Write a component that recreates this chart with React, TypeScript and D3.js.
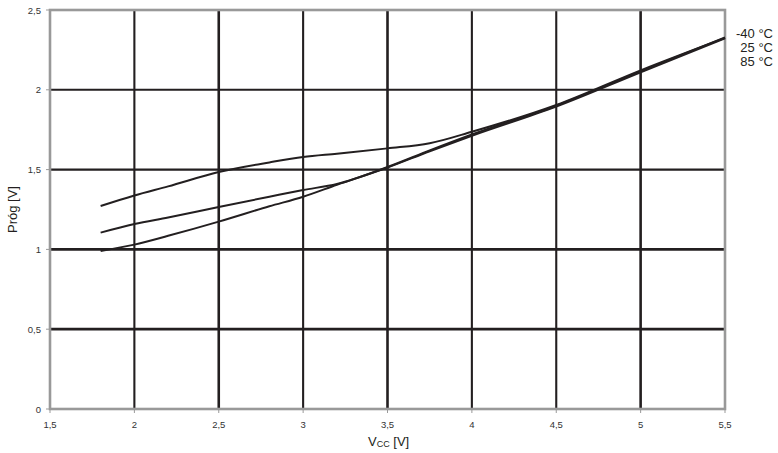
import React from "react";
import * as d3 from "d3";

const xTicks = [1.5, 2, 2.5, 3, 3.5, 4, 4.5, 5, 5.5];
const yTicks = [0, 0.5, 1, 1.5, 2, 2.5];
const seriesNames = ["-40 °C", "25 °C", "85 °C"];

const vcc = [1.8, 2.0, 2.2, 2.5, 2.8, 3.0, 3.2, 3.5, 3.75, 4.0, 4.5, 5.0, 5.5];
const thrM40 = [1.272, 1.338, 1.395, 1.485, 1.545, 1.579, 1.6, 1.633, 1.665, 1.737, 1.905, 2.122, 2.325];
const thr25 = [1.105, 1.159, 1.2, 1.266, 1.33, 1.372, 1.41, 1.516, 1.62, 1.72, 1.9, 2.115, 2.328];
const thr85 = [0.99, 1.03, 1.085, 1.174, 1.27, 1.33, 1.405, 1.513, 1.615, 1.712, 1.895, 2.11, 2.322];

export default function App() {
  const W = 778, H = 453;
  const x = d3.scaleLinear().domain([1.5, 5.5]).range([50, 725]);
  const y = d3.scaleLinear().domain([0, 2.5]).range([409, 10]);
  const line = d3
    .line<number>()
    .x((_, i) => x(vcc[i]))
    .y((d) => y(d))
    .curve(d3.curveMonotoneX);
  const ink = "#231f20";
  const font = "Arial, 'Liberation Sans', sans-serif";
  const series = [thrM40, thr25, thr85];

  return (
    <svg width={W} height={H} style={{ position: "absolute", left: 0, top: 0, background: "#fff" }}>
      {/* grid */}
      {xTicks.slice(1, -1).map((t) => (
        <line key={"vx" + t} x1={x(t)} x2={x(t)} y1={y(2.5)} y2={y(0)} stroke={ink}
          strokeWidth={t === 2.5 || t === 3.5 || t === 5 ? 2.6 : 2.1} />
      ))}
      {yTicks.slice(1, -1).map((t) => (
        <line key={"hy" + t} x1={x(1.5)} x2={x(5.5)} y1={y(t)} y2={y(t)} stroke={ink}
          strokeWidth={t <= 1 ? 2.8 : 2.1} />
      ))}
      {/* frame */}
      <rect x={x(1.5)} y={y(2.5)} width={x(5.5) - x(1.5)} height={y(0) - y(2.5)}
        fill="none" stroke="#999" strokeWidth={2.6} />
      {/* ticks */}
      {xTicks.map((t) => (
        <line key={"tx" + t} x1={x(t)} x2={x(t)} y1={y(0)} y2={y(0) + 4} stroke="#999" strokeWidth={1} />
      ))}
      {yTicks.map((t) => (
        <line key={"ty" + t} x1={x(1.5) - 4} x2={x(1.5)} y1={y(t)} y2={y(t)} stroke="#999" strokeWidth={1} />
      ))}
      {/* tick labels */}
      {xTicks.map((t) => (
        <text key={"lx" + t} x={x(t)} y={428} textAnchor="middle" fontFamily={font} fontSize={9.5} fill="#333">
          {String(t).replace(".", ",")}
        </text>
      ))}
      {yTicks.map((t) => (
        <text key={"ly" + t} x={41} y={y(t) + 3.5} textAnchor="end" fontFamily={font} fontSize={9.5} fill="#333">
          {String(t).replace(".", ",")}
        </text>
      ))}
      {/* curves */}
      {series.map((s, i) => (
        <path key={"s" + i} d={line(s) || ""} fill="none" stroke={ink} strokeWidth={2} />
      ))}
      {/* series labels */}
      {seriesNames.map((n, i) => (
        <text key={"n" + i} x={773} y={38 + i * 14} textAnchor="end" fontFamily={font} fontSize={13} fill={ink}>
          {n}
        </text>
      ))}
      {/* axis titles */}
      <text x={368} y={446} fontFamily={font} fontSize={13} fill={ink}>
        V<tspan fontSize={9} dy={1}>CC</tspan><tspan dy={-1}> [V]</tspan>
      </text>
      <text transform={`translate(17,${y(1.25)}) rotate(-90)`} textAnchor="middle" fontFamily={font} fontSize={13} fill={ink}>
        Próg [V]
      </text>
    </svg>
  );
}
